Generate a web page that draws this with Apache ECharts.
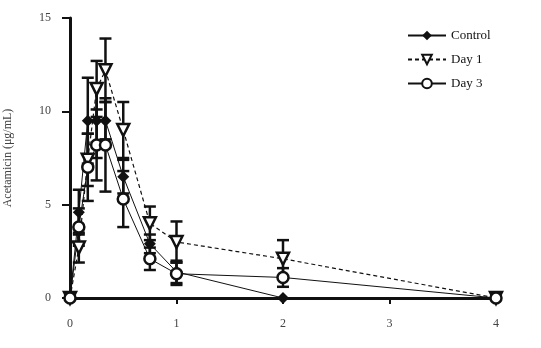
<!DOCTYPE html>
<html><head><meta charset="utf-8">
<script src="https://cdn.jsdelivr.net/npm/echarts@6/dist/echarts.min.js"></script>
<style>html,body{margin:0;padding:0;background:#fff}#c{width:541px;height:348px}</style>
</head><body><div id="c"></div>
<script>
var times = [0, 0.083, 0.167, 0.25, 0.333, 0.5, 0.75, 1, 2, 4];
var control = [0, 4.6, 9.5, 9.5, 9.5, 6.5, 2.9, 1.4, 0, 0];
var controlSD = [0, 1.2, 2.3, 2.0, 1.0, 0.9, 0.5, 0.6, 0, 0];
var day1 = [0, 2.7, 7.4, 11.2, 12.2, 9.0, 4.0, 3.0, 2.1, 0];
var day1SD = [0, 0.8, 1.4, 1.5, 1.7, 1.5, 0.9, 1.1, 1.0, 0];
var day3 = [0, 3.8, 7.0, 8.2, 8.2, 5.3, 2.1, 1.3, 1.1, 0];
var day3SD = [0, 1.0, 1.8, 1.9, 2.5, 1.5, 0.6, 0.6, 0.5, 0];
var xTicks = [0, 1, 2, 3, 4];
var yTicks = [0, 5, 10, 15];

function pts(v){ return times.map(function(t,i){ return [t, v[i]]; }); }
function errData(v, sd){ return times.map(function(t,i){ return [t, v[i]-sd[i], v[i]+sd[i]]; }).filter(function(d,i){ return sd[i] > 0; }); }
function errSeries(v, sd){
  return {
    type: 'custom', z: 1, silent: true,
    data: errData(v, sd),
    renderItem: function(params, api){
      var lo = api.coord([api.value(0), api.value(1)]);
      var hi = api.coord([api.value(0), api.value(2)]);
      var w = 6;
      var st = {stroke: '#111', lineWidth: 2.5};
      return {type: 'group', children: [
        {type: 'line', shape: {x1: lo[0], y1: lo[1], x2: hi[0], y2: hi[1]}, style: st},
        {type: 'line', shape: {x1: lo[0]-w, y1: lo[1], x2: lo[0]+w, y2: lo[1]}, style: st},
        {type: 'line', shape: {x1: hi[0]-w, y1: hi[1], x2: hi[0]+w, y2: hi[1]}, style: st}
      ]};
    }
  };
}
var serif = 'Liberation Serif';
var chart = echarts.init(document.getElementById('c'));
chart.setOption({
  animation: false,
  backgroundColor: '#fff',
  grid: {left: 70, right: 45, top: 18, bottom: 50, outerBoundsMode: 'none', containLabel: false},
  legend: {
    orient: 'vertical', left: 402, top: 24, itemGap: 11,
    itemWidth: 38, itemHeight: 12,
    textStyle: {fontFamily: serif, fontSize: 13, color: '#111'},
    data: ['Control', 'Day 1', 'Day 3']
  },
  xAxis: {
    type: 'value', min: 0, max: 4, interval: 1,
    splitLine: {show: false},
    axisLine: {lineStyle: {color: '#111', width: 3}},
    axisTick: {length: 6, lineStyle: {color: '#111', width: 2}},
    axisLabel: {margin: 20, fontFamily: serif, fontSize: 12, color: '#444',
      formatter: function(v){ return xTicks.indexOf(v) >= 0 ? String(v) : ''; }}
  },
  yAxis: {
    type: 'value', min: 0, max: 15, interval: 5,
    name: 'Acetamicin (μg/mL)', nameLocation: 'middle', nameGap: 56, nameRotate: 90,
    nameTextStyle: {fontFamily: serif, fontSize: 12, color: '#444'},
    splitLine: {show: false},
    axisLine: {show: true, lineStyle: {color: '#111', width: 3}},
    axisTick: {show: true, length: 8, lineStyle: {color: '#111', width: 2}},
    axisLabel: {margin: 19, fontFamily: serif, fontSize: 12, color: '#444',
      formatter: function(v){ return yTicks.indexOf(v) >= 0 ? String(v) : ''; }}
  },
  series: [
    errSeries(control, controlSD),
    errSeries(day1, day1SD),
    errSeries(day3, day3SD),
    {name: 'Control', type: 'line', z: 3, data: pts(control), symbol: 'diamond', symbolSize: 12,
      itemStyle: {color: '#111'}, lineStyle: {color: '#111', width: 1}},
    {name: 'Day 1', type: 'line', z: 3, data: pts(day1), symbol: 'triangle', symbolRotate: 180, symbolSize: 12,
      itemStyle: {color: '#fff', borderColor: '#111', borderWidth: 2.5},
      lineStyle: {color: '#111', width: 1.2, type: [4, 3]}},
    {name: 'Day 3', type: 'line', z: 3, data: pts(day3), symbol: 'circle', symbolSize: 11,
      itemStyle: {color: '#fff', borderColor: '#111', borderWidth: 2.5},
      lineStyle: {color: '#111', width: 1}}
  ]
});
</script></body></html>
